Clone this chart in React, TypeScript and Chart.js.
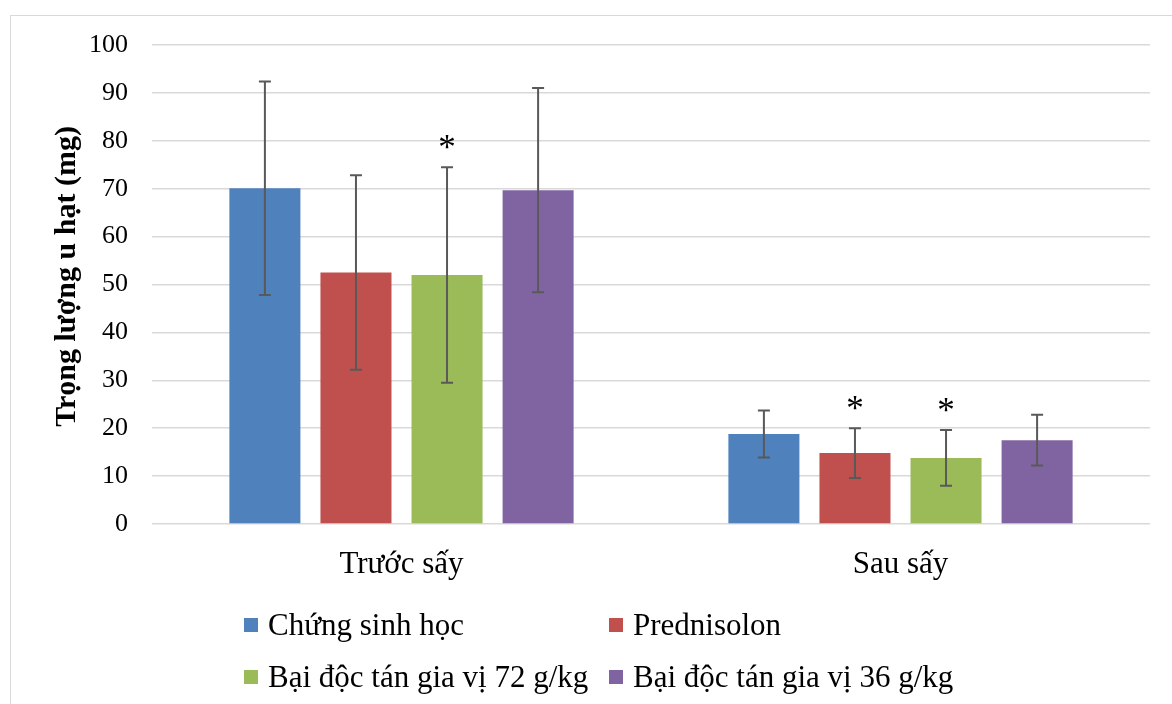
import React, { useEffect, useRef } from "react";
import { Chart, registerables } from "chart.js";

Chart.register(...registerables);

const categories = ["Trước sấy", "Sau sấy"];
const seriesNames = [
  "Chứng sinh học",
  "Prednisolon",
  "Bại độc tán gia vị 72 g/kg",
  "Bại độc tán gia vị 36 g/kg",
];
const seriesColors = ["#4f81bd", "#c0504d", "#9bbb59", "#8064a2"];

const meanChung = [70.1, 18.8];
const sdChung = [22.3, 4.9];
const meanPred = [52.5, 14.8];
const sdPred = [20.3, 5.2];
const mean72 = [52.0, 13.8];
const sd72 = [22.5, 5.8];
const mean36 = [69.7, 17.5];
const sd36 = [21.3, 5.3];

const star72 = [true, true];
const starPred = [false, true];
const starChung = [false, false];
const star36 = [false, false];

const yTicks = [0, 10, 20, 30, 40, 50, 60, 70, 80, 90, 100];
const yTitle = "Trọng lượng u hạt (mg)";

const means = [meanChung, meanPred, mean72, mean36];
const sds = [sdChung, sdPred, sd72, sd36];
const stars = [starChung, starPred, star72, star36];

const FONT = "'Liberation Serif', 'Times New Roman', serif";

const errorBarPlugin = {
  id: "errorBars",
  afterDatasetsDraw(chart: any) {
    const ctx = chart.ctx;
    const y = chart.scales.y;
    ctx.save();
    chart.data.datasets.forEach((ds: any, i: number) => {
      const meta = chart.getDatasetMeta(i);
      meta.data.forEach((bar: any, j: number) => {
        const m = means[i][j];
        const e = sds[i][j];
        const x = bar.x;
        const yt = y.getPixelForValue(m + e);
        const yb = y.getPixelForValue(m - e);
        ctx.strokeStyle = "#595959";
        ctx.lineWidth = 2;
        ctx.beginPath();
        ctx.moveTo(x, yt);
        ctx.lineTo(x, yb);
        ctx.moveTo(x - 6, yt);
        ctx.lineTo(x + 6, yt);
        ctx.moveTo(x - 6, yb);
        ctx.lineTo(x + 6, yb);
        ctx.stroke();
        if (stars[i][j]) {
          ctx.fillStyle = "#000";
          ctx.font = `35px ${FONT}`;
          ctx.textAlign = "center";
          ctx.textBaseline = "alphabetic";
          ctx.fillText("*", x, yt - 8);
        }
      });
    });
    ctx.restore();
  },
};

const yTitlePlugin = {
  id: "yTitle",
  afterDraw(chart: any) {
    const ctx = chart.ctx;
    const area = chart.chartArea;
    ctx.save();
    ctx.translate(67, (area.top + area.bottom) / 2 - 8);
    ctx.rotate(-Math.PI / 2);
    ctx.font = `bold 30px ${FONT}`;
    ctx.fillStyle = "#000";
    ctx.textAlign = "center";
    ctx.textBaseline = "middle";
    ctx.fillText(yTitle, 0, 0);
    ctx.restore();
  },
};

export default function App() {
  const ref = useRef<HTMLCanvasElement>(null);
  useEffect(() => {
    if (!ref.current) return;
    const chart = new Chart(ref.current, {
      type: "bar",
      data: {
        labels: categories,
        datasets: seriesNames.map((n, i) => ({
          label: n,
          data: means[i],
          backgroundColor: seriesColors[i],
          borderWidth: 0,
          categoryPercentage: 0.73,
          barPercentage: 0.78,
        })),
      },
      options: {
        animation: false,
        responsive: false,
        maintainAspectRatio: false,
        layout: { padding: { left: 0, top: 45, right: 22, bottom: 120 } },
        plugins: {
          legend: { display: false },
          tooltip: { enabled: false },
        },
        scales: {
          x: {
            grid: { display: false, drawTicks: false },
            border: { display: false },
            ticks: { color: "#000", font: { family: FONT, size: 31 }, padding: 22 },
            afterFit: (s: any) => {
              s.height = 60;
            },
          },
          y: {
            min: 0,
            max: 100,
            afterBuildTicks: (s: any) => {
              s.ticks = yTicks.map((v) => ({ value: v }));
            },
            grid: { color: "#d9d9d9", lineWidth: 1.5, drawTicks: false },
            border: { display: false },
            ticks: { color: "#000", font: { family: FONT, size: 26 }, padding: 24 },
            afterFit: (s: any) => {
              s.width = 152;
            },
          },
        },
      },
      plugins: [errorBarPlugin, yTitlePlugin],
    });
    return () => chart.destroy();
  }, []);

  return (
    <div
      style={{
        position: "fixed",
        left: 0,
        top: 0,
        width: 1172,
        height: 704,
        overflow: "hidden",
        background: "#fff",
      }}
    >
      <div
        style={{
          position: "absolute",
          left: 10,
          top: 15,
          width: 1200,
          height: 800,
          border: "1px solid #d9d9d9",
        }}
      />
      <canvas
        ref={ref}
        width={1172}
        height={704}
        style={{ position: "absolute", left: 0, top: 0, width: 1172, height: 704 }}
      />
      {seriesNames.map((n, i) => (
        <div
          key={n}
          style={{
            position: "absolute",
            left: 244 + (i % 2) * 365,
            top: 607 + Math.floor(i / 2) * 52,
            height: 36,
            display: "flex",
            alignItems: "center",
            fontFamily: FONT,
            fontSize: 31,
            lineHeight: "36px",
            color: "#000",
            whiteSpace: "nowrap",
          }}
        >
          <span
            style={{
              display: "inline-block",
              width: 14,
              height: 14,
              background: seriesColors[i],
              marginRight: 10,
            }}
          />
          <span>{n}</span>
        </div>
      ))}
    </div>
  );
}
